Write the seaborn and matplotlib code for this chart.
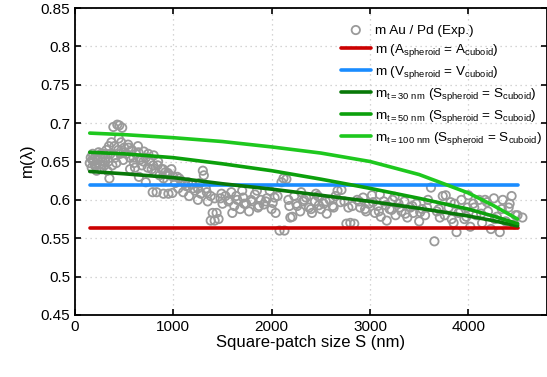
import numpy as np
import pandas as pd
import matplotlib
matplotlib.use("Agg")
import matplotlib.pyplot as plt
import seaborn as sns

exp_S = [150,160,170,180,190,200,210,220,230,240,250,260,270,280,290,300,310,320,330,340,350,360,370,380,390,400,410,420,430,440,450,460,470,480,490,500,
         520,540,560,580,600,620,640,660,680,700,720,740,760,780,800,820,840,860,880,900,920,940,960,980,1000,790,830,900,950,990,720,650,560,610,
         1020,1050,1080,1100,1130,1160,1190,1220,1250,1280,1300,1310,1330,1350,1380,1400,1420,1440,1380,1460,1480,1500,1250,1150,1060,
         1530,1560,1590,1620,1650,1680,1710,1740,1770,1800,1830,1860,1890,1920,1950,1980,2010,2040,2060,2080,2100,2120,2150,2130,1700,1600,1850,2000,
         2170,2190,2210,2230,2260,2290,2320,2350,2380,2410,2440,2470,2500,2530,2560,2590,2620,2650,2670,2710,2740,2760,2800,2840,2780,2450,2300,
         2870,2900,2930,2960,2990,3020,3050,3080,3110,3140,3170,3200,3230,3260,3290,3320,3350,3380,3410,3440,3470,3500,3530,3560,3590,3620,3100,3250,
         3655,3680,3710,3740,3770,3800,3830,3860,3880,3900,3930,3960,3990,4020,4050,4080,4110,4140,4170,4200,4230,4260,4290,4320,4350,4380,4410,4440,4470,4500,4550,3850,4000]
exp_m = [.648,.655,.642,.660,.650,.645,.657,.638,.652,.662,.646,.655,.640,.650,.660,.645,.655,.665,.638,.650,.628,.660,.675,.645,.695,.670,.655,.648,.698,.665,.697,.660,.675,.694,.652,.668,
         .660,.672,.655,.665,.648,.660,.670,.652,.645,.663,.655,.642,.650,.640,.658,.635,.645,.632,.640,.628,.636,.625,.632,.640,.630,.610,.610,.608,.608,.609,.623,.630,.640,.642,
         .622,.615,.625,.610,.618,.605,.620,.612,.600,.608,.638,.632,.615,.598,.605,.583,.573,.583,.573,.575,.602,.595,.615,.623,.628,
         .605,.598,.610,.592,.600,.588,.603,.595,.585,.598,.607,.590,.600,.594,.602,.612,.596,.583,.605,.560,.623,.628,.627,.560,.612,.583,.612,.588,
         .600,.577,.578,.605,.592,.585,.598,.603,.590,.583,.598,.605,.588,.595,.582,.600,.592,.605,.612,.613,.598,.569,.570,.569,.590,.608,.610,
         .600,.590,.603,.585,.595,.606,.583,.592,.578,.598,.573,.588,.600,.580,.595,.585,.598,.577,.590,.583,.595,.572,.588,.580,.600,.616,.607,.604,
         .546,.585,.577,.605,.606,.590,.575,.595,.558,.583,.600,.575,.590,.565,.595,.580,.600,.570,.600,.585,.562,.602,.578,.558,.600,.572,.590,.605,.568,.580,.577,.570,.606]

# additional points filling the dense band
band_S = [175,215,265,305,345,395,445,495,545,595,645,695,745,795,845,895,945,
          1040,1120,1200,1270,1340,1420,1490,1570,1640,1720,1790,1870,1940,2030,2180,2250,2330,2400,2480,2550,2630,2700,
          2820,2890,2950,3030,3090,3160,3220,3300,3360,3430,3510,3580,3700,3760,3820,3920,3980,4060,4130,4190,4270,4340,4420,4480]
band_m = [.652,.645,.660,.650,.670,.658,.680,.662,.668,.655,.662,.650,.660,.645,.650,.640,.635,
          .630,.622,.615,.622,.610,.602,.608,.600,.605,.595,.600,.592,.598,.603,.592,.595,.600,.588,.593,.598,.590,.597,
          .592,.598,.588,.597,.585,.593,.587,.590,.582,.592,.584,.590,.588,.580,.597,.585,.578,.590,.582,.597,.575,.588,.595,.580]

# ---- model curves ----
model_S = [150, 500, 1000, 1500, 2000, 2500, 3000, 3500, 4000, 4250, 4500]
m_area = [0.564] * len(model_S)
m_vol = [0.620] * len(model_S)
m_t30 = [0.637, 0.634, 0.629, 0.621, 0.614, 0.606, 0.598, 0.589, 0.579, 0.573, 0.566]
m_t50 = [0.662, 0.660, 0.655, 0.647, 0.638, 0.627, 0.615, 0.602, 0.588, 0.579, 0.569]
m_t100 = [0.687, 0.685, 0.681, 0.676, 0.669, 0.661, 0.650, 0.633, 0.609, 0.593, 0.575]

x_ticks = [0, 1000, 2000, 3000, 4000]
y_ticks = [0.45, 0.5, 0.55, 0.6, 0.65, 0.7, 0.75, 0.8, 0.85]
y_ticklabels = ["0.45", "0.5", "0.55", "0.6", "0.65", "0.7", "0.75", "0.8", "0.85"]

sns.set_style("ticks")
plt.rcParams['font.family'] = ['Liberation Sans', 'DejaVu Sans']
plt.rcParams['mathtext.fontset'] = 'custom'
plt.rcParams['mathtext.rm'] = 'Liberation Sans'
plt.rcParams['mathtext.it'] = 'Liberation Sans'
for k in ['text.color', 'axes.labelcolor', 'xtick.color', 'ytick.color', 'axes.edgecolor']:
    plt.rcParams[k] = 'black'

fig = plt.figure(figsize=(5.47, 3.77), dpi=100)
ax = fig.add_axes([75/547, 1-315/377, 472/547, 307/377])

exp_df = pd.DataFrame({"S": exp_S + band_S, "m": exp_m + band_m})
sns.scatterplot(data=exp_df, x="S", y="m", ax=ax, marker="o", s=36,
                facecolors="none", edgecolor="#9a9a9a", linewidth=1.3,
                label="m Au / Pd (Exp.)", zorder=2)

curves = [
    (m_area, "#cc0000", r"m (A$_{\mathrm{spheroid}}$ = A$_{\mathrm{cuboid}}$)"),
    (m_vol, "#1a8cff", r"m (V$_{\mathrm{spheroid}}$ = V$_{\mathrm{cuboid}}$)"),
    (m_t30, "#087808", r"m$_{\mathrm{t =30\ nm}}$ (S$_{\mathrm{spheroid}}$ = S$_{\mathrm{cuboid}}$)"),
    (m_t50, "#0ca00c", r"m$_{\mathrm{t =50\ nm}}$ (S$_{\mathrm{spheroid}}$ = S$_{\mathrm{cuboid}}$)"),
    (m_t100, "#1ec81e", r"m$_{\mathrm{t =100\ nm}}$ (S$_{\mathrm{spheroid}}$ = S$_{\mathrm{cuboid}}$)"),
]
for vals, col, lab in curves:
    df = pd.DataFrame({"S": model_S, "m": vals})
    sns.lineplot(data=df, x="S", y="m", ax=ax, color=col, linewidth=2.6,
                 label=lab, zorder=3)

ax.set_xlim(0, 4800)
ax.set_ylim(0.45, 0.85)
ax.set_xticks(x_ticks)
ax.set_yticks(y_ticks)
ax.set_yticklabels(y_ticklabels)
ax.tick_params(direction="in", top=True, right=True, labelsize=11, length=4, width=1.2, colors="black")
for sp in ax.spines.values():
    sp.set_linewidth(1.3)
    sp.set_color("black")
ax.grid(True, linestyle=(0, (1, 3)), color="#c8c8c8", linewidth=0.9)
ax.set_axisbelow(True)
ax.set_xlabel("Square-patch size S (nm)", fontsize=12, labelpad=1)
ax.set_ylabel(r"m($\lambda$)", fontsize=12, labelpad=2)

leg = ax.legend(loc="upper right", frameon=False, fontsize=9.7, handlelength=2.2,
                handletextpad=0.3, labelspacing=0.38, borderaxespad=0.0,
                bbox_to_anchor=(1.0, 0.965))

fig.savefig("out.png", dpi=100)
